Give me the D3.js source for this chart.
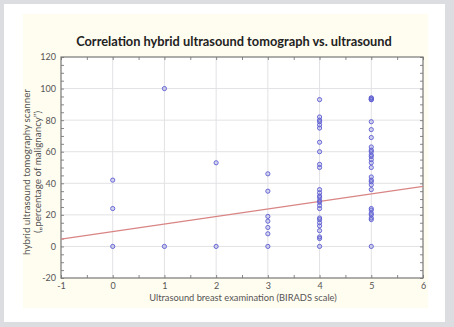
<!DOCTYPE html>
<html>
<head>
<meta charset="utf-8">
<script src="https://cdn.jsdelivr.net/npm/d3@7"></script>
<style>
  body { margin: 0; background: #dcdde1; }
  #app { width: 454px; height: 327px; }
</style>
</head>
<body>
<div id="app"></div>
<script>
// BIRADS category and hybrid scanner percentage, one list per category
const birads = [0, 1, 2, 3, 4, 5];
const scores0 = [0, 24, 42];
const scores1 = [0, 100];
const scores2 = [0, 53];
const scores3 = [0, 8, 12, 16, 19, 35, 46];
const scores4 = [0, 5, 6, 10, 13, 15, 17, 18, 24, 26, 28, 29, 31, 32, 34, 36, 50, 52, 60, 66, 75, 77, 79, 80, 82, 93];
const scores5 = [0, 17, 18, 20, 21, 23, 24, 36, 39, 41, 42, 44, 50, 53, 55, 57, 58, 60, 61, 63, 69, 74, 79, 93, 93, 94, 94];
const xTicks = [-1, 0, 1, 2, 3, 4, 5, 6];
const yTicks = [-20, 0, 20, 40, 60, 80, 100, 120];
// fitted regression line, read at the ends of the x range
const fitX = [-1, 6];
const fitY = [4.6, 38];

const chart = () => {
  const width = 454;
  const height = 327;
  const left = 61, right = 423, top = 57, bottom = 278;

  const svg = d3.create("svg").attr("width", width).attr("height", height);

  // white card and cream panel
  svg.append("rect").attr("x", 4).attr("y", 4).attr("width", 441).attr("height", 318).attr("fill", "#fff");
  svg.append("rect").attr("x", 23).attr("y", 14).attr("width", 405).attr("height", 294).attr("fill", "#fffcf0");

  const x = d3.scaleLinear().domain([-1, 6]).range([left, right]);
  const y = d3.scaleLinear().domain([-20, 120]).range([bottom, top]);

  svg.append("rect")
    .attr("x", left).attr("y", top)
    .attr("width", right - left).attr("height", bottom - top)
    .attr("fill", "#fff");

  // grid
  svg.append("g")
    .selectAll("line")
    .data(xTicks.slice(1, -1))
    .join("line")
    .attr("x1", (d) => x(d)).attr("x2", (d) => x(d))
    .attr("y1", top).attr("y2", bottom)
    .attr("stroke", "#e2e2e6").attr("stroke-width", 1);

  svg.append("g")
    .selectAll("line")
    .data(yTicks.slice(1, -1))
    .join("line")
    .attr("y1", (d) => y(d)).attr("y2", (d) => y(d))
    .attr("x1", left).attr("x2", right)
    .attr("stroke", "#e2e2e6").attr("stroke-width", 1);

  // inward minor ticks on all four sides
  const tickStyle = (g) => {
    g.select(".domain").remove();
    g.selectAll("line").attr("stroke", "#888");
    g.selectAll("text").remove();
  };
  const xMinor = d3.range(-1, 6.01, 0.5);
  const yMinor = d3.range(-20, 120.01, 5);
  svg.append("g").attr("transform", `translate(0,${bottom})`)
    .call(d3.axisTop(x).tickValues(xMinor).tickSize(3)).call(tickStyle);
  svg.append("g").attr("transform", `translate(0,${top})`)
    .call(d3.axisBottom(x).tickValues(xMinor).tickSize(3)).call(tickStyle);
  svg.append("g").attr("transform", `translate(${left},0)`)
    .call(d3.axisRight(y).tickValues(yMinor).tickSize(3)).call(tickStyle);
  svg.append("g").attr("transform", `translate(${right},0)`)
    .call(d3.axisLeft(y).tickValues(yMinor).tickSize(3)).call(tickStyle);

  // tick labels
  const plain = (d) => String(d);
  const labelStyle = (g) => {
    g.select(".domain").remove();
    g.selectAll("line").remove();
    g.selectAll("text")
      .attr("fill", "#555")
      .style("font-family", "Lato, 'Open Sans', sans-serif")
      .style("font-size", "9px");
  };
  svg.append("g").attr("transform", `translate(0,${bottom})`)
    .call(d3.axisBottom(x).tickValues(xTicks).tickFormat(plain).tickSize(0).tickPadding(5)).call(labelStyle);
  svg.append("g").attr("transform", `translate(${left},0)`)
    .call(d3.axisLeft(y).tickValues(yTicks).tickFormat(plain).tickSize(0).tickPadding(5)).call(labelStyle);

  svg.append("rect")
    .attr("x", left).attr("y", top)
    .attr("width", right - left).attr("height", bottom - top)
    .attr("fill", "none").attr("stroke", "#777").attr("stroke-width", 1.2);

  // regression line
  svg.append("line")
    .attr("x1", x(fitX[0])).attr("y1", y(fitY[0]))
    .attr("x2", x(fitX[1])).attr("y2", y(fitY[1]))
    .attr("stroke", "#d98585").attr("stroke-width", 1.3);

  // points
  const groups = [scores0, scores1, scores2, scores3, scores4, scores5];
  const points = groups.flatMap((list, i) => list.map((v) => ({ b: birads[i], v })));
  svg.append("g")
    .selectAll("circle")
    .data(points)
    .join("circle")
    .attr("cx", (d) => x(d.b))
    .attr("cy", (d) => y(d.v))
    .attr("r", 2.1)
    .attr("fill", "rgba(120,120,220,0.25)")
    .attr("stroke", "#5a5ad0")
    .attr("stroke-width", 0.9);

  // titles
  svg.append("text")
    .text("Correlation hybrid ultrasound tomograph vs. ultrasound")
    .attr("x", 234).attr("y", 46)
    .attr("text-anchor", "middle")
    .attr("fill", "#222")
    .style("font-family", "Lato, sans-serif")
    .style("font-weight", "bold")
    .style("font-size", "12.8px");

  svg.append("text")
    .text("Ultrasound breast examination (BIRADS scale)")
    .attr("x", 243).attr("y", 301)
    .attr("text-anchor", "middle")
    .attr("fill", "#555")
    .style("font-family", "Lato, sans-serif")
    .style("font-size", "9.3px");

  const yLabel = svg.append("text")
    .attr("transform", "translate(0,172) rotate(-90)")
    .attr("text-anchor", "middle")
    .attr("fill", "#555")
    .style("font-family", "Lato, sans-serif")
    .style("font-size", "9.8px");
  yLabel.append("tspan").attr("x", 0).attr("y", 30).text("hybrid ultrasound tomography scanner");
  yLabel.append("tspan").attr("x", 0).attr("y", 41).text("(\u201Epercentage of malignancy\u201D)");

  return svg.node();
};

d3.select("#app").append(chart);
</script>
</body>
</html>
